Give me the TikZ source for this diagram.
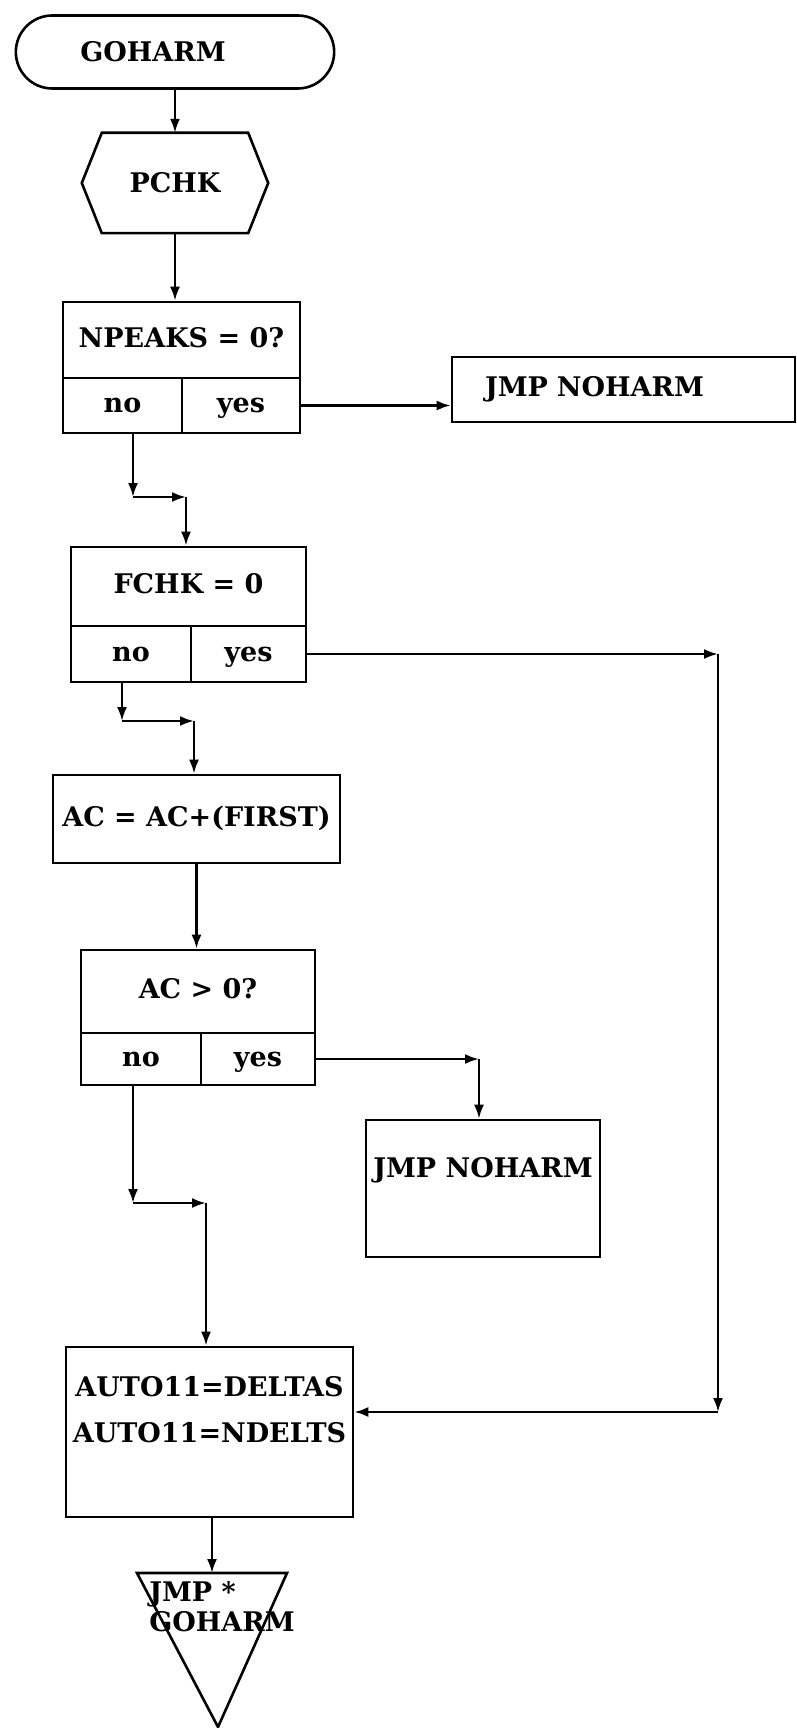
\documentclass[tikz,border=0pt]{standalone}
\usepackage{fontspec}
\setmainfont{DejaVu Serif}
\usetikzlibrary{arrows.meta, shapes.misc}
\tikzset{
  box/.style={draw, line width=2.6pt, rectangle, inner sep=0pt},
  cell/.style={box, text height=20pt, text depth=6pt},
  flow/.style={line width=2.4pt, -{Latex[length=14pt,width=10pt]}},
}
\newcommand{\chartfont}{\fontsize{27}{30}\selectfont\bfseries}

\begin{document}
\begin{tikzpicture}[x=1pt, y=-1pt, font=\chartfont]
\useasboundingbox (0,0) rectangle (797,1728);

\node[draw, line width=2.6pt, rounded rectangle, minimum width=325pt, minimum height=73pt] (Start) at (175,52) {GOHARM\hspace*{44pt}};
\node[minimum width=186pt, minimum height=100pt, inner sep=0pt] (Pchk) at (175,183) {PCHK};
\draw[line width=2.6pt] (Pchk.west) -- ([xshift=20pt]Pchk.north west) -- ([xshift=-20pt]Pchk.north east)
  -- (Pchk.east) -- ([xshift=-20pt]Pchk.south east) -- ([xshift=20pt]Pchk.south west) -- cycle;

\node[cell, minimum width=237pt, minimum height=76pt] (Npeaks) at (181.5,340) {NPEAKS = 0?};
\node[cell, minimum width=119pt, minimum height=55pt] (NpeaksNo) at (122.5,405.5) {no};
\node[cell, minimum width=118pt, minimum height=55pt] (NpeaksYes) at (241,405.5) {yes};
\node[cell, text width=277pt, inner xsep=33pt, minimum height=65pt, align=left] (Exit1) at (623.5,389.5) {JMP NOHARM};

\node[cell, minimum width=235pt, minimum height=79pt] (Fchk) at (188.5,586.5) {FCHK = 0};
\node[cell, minimum width=120pt, minimum height=56pt] (FchkNo) at (131,654) {no};
\node[cell, minimum width=115pt, minimum height=56pt] (FchkYes) at (248.5,654) {yes};

\node[cell, minimum width=287pt, minimum height=88pt] (Calc) at (196.5,819) {AC = AC+(FIRST)};

\node[cell, minimum width=234pt, minimum height=83pt] (Acpos) at (198,991.5) {AC > 0?};
\node[cell, minimum width=120pt, minimum height=52pt] (AcposNo) at (141,1059) {no};
\node[cell, minimum width=114pt, minimum height=52pt] (AcposYes) at (258,1059) {yes};
\node[box, minimum width=234pt, minimum height=137pt, text depth=42pt] (Exit2) at (483,1188.5) {JMP NOHARM};

\node[box, minimum width=287pt, minimum height=170pt, align=center] (Auto) at (209.5,1432)
  {AUTO11=DELTAS\\[16pt]AUTO11=NDELTS\\[16pt]~};

% return triangle
\node[align=left, inner sep=0pt] (Ret) at (222,1607) {JMP *\\GOHARM};
\draw[line width=2.6pt] (137,1573) -- (287,1573) -- (218,1727) -- cycle;
\coordinate (RetTop) at (212,1573);

\draw[flow] (Start.south) -- (Pchk.north);
\draw[flow] (Pchk.south) -- (Pchk.south |- Npeaks.north);
\draw[flow] (NpeaksYes.east) -- (NpeaksYes.east -| Exit1.west);

\coordinate (NoA1) at (133,497);
\coordinate (NoB1) at (186,497);
\draw[flow] (NpeaksNo.south -| NoA1) -- (NoA1);
\draw[flow] (NoA1) -- (NoB1);
\draw[flow] (NoB1) -- (NoB1 |- Fchk.north);

\coordinate (NoA2) at (122,721);
\coordinate (NoB2) at (194,721);
\draw[flow] (FchkNo.south -| NoA2) -- (NoA2);
\draw[flow] (NoA2) -- (NoB2);
\draw[flow] (NoB2) -- (NoB2 |- Calc.north);

% yes of FCHK goes round to AUTO11
\coordinate (YesA2) at (718,654);
\coordinate (YesB2) at (718,1412);
\draw[flow] (FchkYes.east) -- (YesA2);
\draw[flow] (YesA2) -- (YesB2);
\draw[flow] (YesB2) -- (YesB2 -| Auto.east);

\draw[flow] (Calc.south) -- (Calc.south |- Acpos.north);

\coordinate (YesA3) at (479,1059);
\draw[flow] (AcposYes.east) -- (YesA3);
\draw[flow] (YesA3) -- (YesA3 |- Exit2.north);

\coordinate (NoA3) at (133,1203);
\coordinate (NoB3) at (206,1203);
\draw[flow] (AcposNo.south -| NoA3) -- (NoA3);
\draw[flow] (NoA3) -- (NoB3);
\draw[flow] (NoB3) -- (NoB3 |- Auto.north);

\draw[flow] (Auto.south -| RetTop) -- (RetTop);
\end{tikzpicture}
\end{document}
